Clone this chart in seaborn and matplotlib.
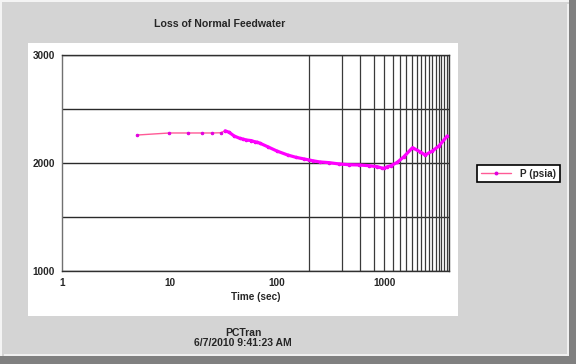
import numpy as np
import matplotlib
matplotlib.use("Agg")
import matplotlib.pyplot as plt
from matplotlib.patches import Rectangle
from matplotlib.lines import Line2D
from matplotlib.ticker import FixedLocator, NullFormatter, LogLocator
import seaborn as sns

# ---- data ----
time_sec = [5, 10, 15, 20, 25, 30, 33, 36, 40, 45, 48, 52, 58, 62, 66, 70, 82, 100,
            126, 150, 180, 200, 215, 250, 308, 380, 470, 580, 720, 860, 960, 1000,
            1070, 1150, 1320, 1520, 1830, 2140, 2400, 2800, 3240, 3850]
pressure_psia = [2259, 2278, 2278, 2278, 2278, 2280, 2298, 2284, 2250, 2229, 2222, 2213,
                 2207, 2197, 2192, 2182, 2151, 2111, 2074, 2053, 2037, 2028, 2021, 2010,
                 2003, 1991, 1984, 1982, 1975, 1966, 1952, 1951, 1966, 1975, 2006, 2058,
                 2142, 2105, 2074, 2111, 2160, 2250]
series_name = "P (psia)"
x_tick_values = [1, 10, 100, 1000]
x_tick_labels = ["1", "10", "100", "1000"]
y_tick_values = [1000, 2000, 3000]
y_tick_labels = ["1000", "2000", "3000"]
y_extra_grid = [1500, 2500]
title = "Loss of Normal Feedwater"
x_label = "Time (sec)"
footer_1 = "PCTran"
footer_2 = "6/7/2010 9:41:23 AM"

sns.set_style("white")
plt.rcParams["font.family"] = ["Liberation Sans", "DejaVu Sans"]

W, H = 576, 364
fig = plt.figure(figsize=(W / 100, H / 100), dpi=100)
fig.patch.set_facecolor("#d4d4d4")

def px_rect(x0, y0, x1, y1, color):
    r = Rectangle((x0 / W, 1 - y1 / H), (x1 - x0) / W, (y1 - y0) / H,
                  transform=fig.transFigure, facecolor=color, edgecolor="none", zorder=-10)
    fig.patches.append(r)

# 3D window frame
px_rect(0, 0, W, 2, "#f4f4f4")
px_rect(0, 0, 2, H, "#f4f4f4")
px_rect(0, H - 8, W, H, "#808080")
px_rect(W - 7, 0, W, H, "#808080")
px_rect(4, H - 10, W - 8, H - 8, "#f0f0f0")
px_rect(W - 9, 4, W - 7, H - 8, "#f0f0f0")
# white chart panel
px_rect(28, 43, 458, 316, "#ffffff")

ax_l, ax_r, ax_t, ax_b = 62, 449, 55, 271
ax = fig.add_axes([ax_l / W, 1 - ax_b / H, (ax_r - ax_l) / W, (ax_b - ax_t) / H])
ax.set_zorder(5)
ax.set_facecolor("white")

sns.lineplot(x=time_sec, y=pressure_psia, ax=ax, color="#ff5a96", linewidth=1.0,
             marker="o", markersize=1.8, markerfacecolor="#e000e0",
             markeredgecolor="#e000e0", zorder=5, legend=False)
dense_t = [t for t in time_sec if t >= 33]
dense_p = [p for t, p in zip(time_sec, pressure_psia) if t >= 33]
sns.lineplot(x=dense_t, y=dense_p, ax=ax, color="#ff00ff", linewidth=2.3,
             zorder=6, legend=False)

ax.set_xscale("log")
ax.set_xlim(1, 4000)
ax.set_ylim(1000, 3000)

# vertical grid lines every 200 s from 200 s
for t in range(200, 4001, 200):
    ax.axvline(t, color="#3a3a3a", linewidth=0.9, zorder=1)

ax.set_xticks(x_tick_values)
ax.set_xticklabels(x_tick_labels)
ax.xaxis.set_minor_locator(LogLocator(base=10, subs=np.arange(2, 10)))
ax.xaxis.set_minor_formatter(NullFormatter())
ax.set_yticks(y_tick_values)
ax.set_yticklabels(y_tick_labels)
ax.yaxis.set_minor_locator(FixedLocator(y_extra_grid))

ax.grid(False)
ax.yaxis.grid(True, which="both", color="#2a2a2a", linewidth=1.0, zorder=1)

ax.tick_params(axis="both", which="major", direction="out", length=3, width=0.8,
               color="#404040", labelsize=7.2, pad=2)
ax.tick_params(axis="x", which="minor", direction="out", length=2, width=0.7, color="#606060")
ax.tick_params(axis="y", which="minor", length=0)
for lab in ax.get_xticklabels() + ax.get_yticklabels():
    lab.set_fontweight("bold")

for s in ax.spines.values():
    s.set_color("#303030")
    s.set_linewidth(1.0)
ax.spines["left"].set_color("#707070")

ax.set_xlabel(x_label, fontsize=7.2, fontweight="bold", labelpad=3)
ax.set_ylabel("")

fig.text(220 / W, 1 - 24 / H, title, ha="center", va="center", fontsize=7.6, fontweight="bold")
fig.text(243 / W, 1 - 333 / H, footer_1, ha="center", va="center", fontsize=7.5, fontweight="bold")
fig.text(243 / W, 1 - 343 / H, footer_2, ha="center", va="center", fontsize=7.5, fontweight="bold")

handle = Line2D([0], [0], color="#ff5a96", linewidth=1.0, marker="o", markersize=1.8,
                markerfacecolor="#e000e0", markeredgecolor="#e000e0")
leg = fig.legend([handle], [series_name], loc="center left",
                 bbox_to_anchor=(477 / W, 1 - 173.5 / H), frameon=True, fancybox=False,
                 framealpha=1, edgecolor="black", handlelength=3.0, handletextpad=1.0,
                 borderpad=0.35, borderaxespad=0, prop={"size": 7.2, "weight": "bold"})
leg.get_frame().set_linewidth(1.2)

fig.savefig("out.png", dpi=100, facecolor=fig.get_facecolor())
